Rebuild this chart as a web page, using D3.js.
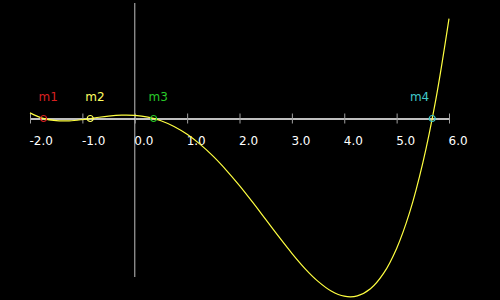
<!DOCTYPE html>
<html lang="en">
<head>
    <meta charset="UTF-8">
    <title>Polynomial roots</title>
    <script src="https://d3js.org/d3.v7.min.js"></script>
    <style>
        body { margin: 0; background: #000; }
        svg { display: block; }
        text { font-family: "DejaVu Sans", Verdana, sans-serif; }
    </style>
</head>
<body>
    <script>
    // curve samples (x, y)
    const curveX = [-2.0, -1.75, -1.5, -1.25, -1.0, -0.75, -0.5, -0.25, 0.0, 0.25, 0.5, 0.75,
        1.0, 1.25, 1.5, 1.75, 2.0, 2.25, 2.5, 2.75, 3.0, 3.25, 3.5, 3.75,
        4.0, 4.25, 4.5, 4.75, 5.0, 5.25, 5.5, 5.75, 6.0];
    const curveY = [5.4, 0.1, -2.1, -2.2, -1.0, 0.7, 2.3, 3.2, 3.0, 1.3, -2.2, -7.7,
        -15.2, -24.8, -36.3, -49.6, -64.3, -80.2, -96.7, -113.2, -129.1, -143.7, -156.0, -165.2,
        -170.2, -169.9, -163.1, -148.4, -124.4, -89.7, -42.5, 18.6, 95.7];

    // markers on the roots
    const markerNames = ["m1", "m2", "m3", "m4"];
    const markerX = [-1.74, -0.85, 0.36, 5.68];
    const markerColors = ["#d82020", "#ffff60", "#28c828", "#40c8c8"];

    const tickValues = [-2, -1, 0, 1, 2, 3, 4, 5, 6];

    const width = 500, height = 300;
    const svg = d3.select("body").append("svg")
        .attr("width", width)
        .attr("height", height);

    svg.append("rect")
        .attr("width", width)
        .attr("height", height)
        .attr("fill", "#000");

    const x = d3.scaleLinear().domain([-2, 6]).range([30, 449]);
    const y = d3.scaleLinear().domain([-170, 0]).range([296, 118.5]);

    // vertical axis (no ticks)
    svg.append("line")
        .attr("x1", x(0)).attr("x2", x(0))
        .attr("y1", 3).attr("y2", 277)
        .attr("stroke", "#a0a0a0")
        .attr("stroke-width", 1.2);

    // horizontal axis
    const axis = svg.append("g")
        .attr("transform", `translate(0,${y(0)})`)
        .call(d3.axisBottom(x).tickValues(tickValues).tickSize(0));
    axis.select(".domain").attr("stroke", "#fff").attr("stroke-width", 1.5);
    axis.selectAll(".tick line")
        .attr("y1", -5).attr("y2", 5)
        .attr("stroke", "#a0a0a0");
    axis.selectAll(".tick text")
        .attr("fill", "#fff")
        .attr("font-size", 12)
        .attr("font-family", "DejaVu Sans, Verdana, sans-serif")
        .attr("text-anchor", "start")
        .attr("x", -1)
        .attr("y", 26)
        .attr("dy", 0)
        .text(d => (d < 0 ? "-" : "") + Math.abs(d).toFixed(1));

    // curve
    const pts = curveX.map((v, i) => [v, curveY[i]]);
    svg.append("path")
        .datum(pts)
        .attr("fill", "none")
        .attr("stroke", "#ffff40")
        .attr("stroke-width", 1.2)
        .attr("d", d3.line().x(d => x(d[0])).y(d => y(d[1])).curve(d3.curveCatmullRom));

    // root markers
    const markers = svg.append("g").selectAll("g")
        .data(markerNames)
        .join("g")
        .attr("transform", (d, i) => `translate(${x(markerX[i])},${y(0)})`);

    markers.append("circle")
        .attr("r", 3)
        .attr("fill", "none")
        .attr("stroke", (d, i) => markerColors[i])
        .attr("stroke-width", 1.2);

    markers.append("text")
        .attr("x", (d, i) => i === 3 ? -3 : -5)
        .attr("y", -18)
        .attr("text-anchor", (d, i) => i === 3 ? "end" : "start")
        .attr("font-size", 12)
        .attr("fill", (d, i) => markerColors[i])
        .text(d => d);
    </script>
</body>
</html>
